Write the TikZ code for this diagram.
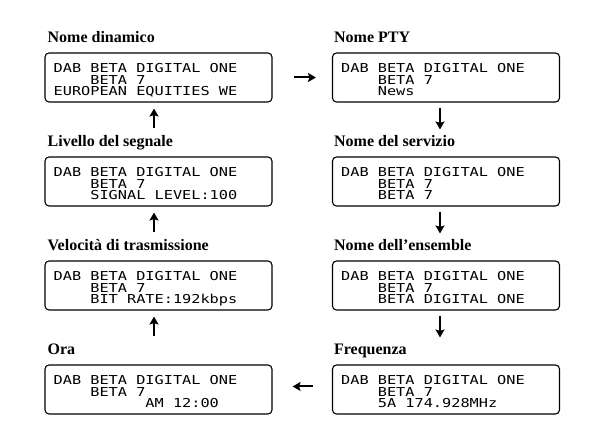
\documentclass[tikz,border=0pt]{standalone}
\usepackage{fontspec}
\setmainfont{Liberation Serif}
\newfontfamily\lcd[FakeStretch=1.24]{DejaVu Sans Mono}
\usetikzlibrary{arrows.meta}
\tikzset{
  lcdbox/.style={draw, line width=1.1pt, rounded corners=4pt, minimum width=227pt, minimum height=49pt, inner sep=0pt},
  lcdtext/.style={anchor=north west, inner sep=0pt, align=left, font=\lcd\fontsize{12.3}{11.5}\selectfont},
  ttl/.style={anchor=base west, inner sep=0pt, font=\fontsize{16}{17}\selectfont\bfseries},
  arr/.style={line width=2pt, -{Stealth[length=8pt,width=9pt,inset=1.5pt]}}
}
\newcommand{\lcdsp}[1]{\phantom{#1}}
\begin{document}
\begin{tikzpicture}[x=1pt,y=-1pt]
\useasboundingbox (0,0) rectangle (605,443);
% left column
\node[lcdbox] (b1) at (158.5,77.5) {};
\node[lcdbox] (b8) at (158.5,181.5) {};
\node[lcdbox] (b7) at (158.5,285.5) {};
\node[lcdbox] (b6) at (158.5,389.5) {};
% right column
\node[lcdbox] (b2) at (446,77.5) {};
\node[lcdbox] (b3) at (446,181.5) {};
\node[lcdbox] (b4) at (446,285.5) {};
\node[lcdbox] (b5) at (446,389.5) {};
% titles
\node[ttl] (h1) at ([shift={(3,-10)}]b1.north west) {Nome dinamico};
\node[ttl] (h8) at ([shift={(3,-10)}]b8.north west) {Livello del segnale};
\node[ttl] (h7) at ([shift={(3,-10)}]b7.north west) {Velocità di trasmissione};
\node[ttl] (h6) at ([shift={(3,-10)}]b6.north west) {Ora};
\node[ttl] (h2) at ([shift={(2,-10)}]b2.north west) {Nome PTY};
\node[ttl] (h3) at ([shift={(2,-10)}]b3.north west) {Nome del servizio};
\node[ttl] (h4) at ([shift={(2,-10)}]b4.north west) {Nome dell’ensemble};
\node[ttl] (h5) at ([shift={(2,-10)}]b5.north west) {Frequenza};
% lcd texts
\node[lcdtext] (t1) at ([shift={(9,11)}]b1.north west) {DAB BETA DIGITAL ONE\\\lcdsp{0000}BETA 7\\EUROPEAN EQUITIES WE};
\node[lcdtext] (t8) at ([shift={(9,11)}]b8.north west) {DAB BETA DIGITAL ONE\\\lcdsp{0000}BETA 7\\\lcdsp{0000}SIGNAL LEVEL:100};
\node[lcdtext] (t7) at ([shift={(9,11)}]b7.north west) {DAB BETA DIGITAL ONE\\\lcdsp{0000}BETA 7\\\lcdsp{0000}BIT RATE:192kbps};
\node[lcdtext] (t6) at ([shift={(9,11)}]b6.north west) {DAB BETA DIGITAL ONE\\\lcdsp{0000}BETA 7\\\lcdsp{0000000000}AM 12:00};
\node[lcdtext] (t2) at ([shift={(9,11)}]b2.north west) {DAB BETA DIGITAL ONE\\\lcdsp{0000}BETA 7\\\lcdsp{0000}News};
\node[lcdtext] (t3) at ([shift={(9,11)}]b3.north west) {DAB BETA DIGITAL ONE\\\lcdsp{0000}BETA 7\\\lcdsp{0000}BETA 7};
\node[lcdtext] (t4) at ([shift={(9,11)}]b4.north west) {DAB BETA DIGITAL ONE\\\lcdsp{0000}BETA 7\\\lcdsp{0000}BETA DIGITAL ONE};
\node[lcdtext] (t5) at ([shift={(9,11)}]b5.north west) {DAB BETA DIGITAL ONE\\\lcdsp{0000}BETA 7\\\lcdsp{0000}5A 174.928MHz};
% arrows
\draw[arr, shorten <=21pt, shorten >=16pt] (b1.east) -- (b2.west);
\draw[arr, shorten <=5pt, shorten >=27pt] ([xshift=-6]b2.south) -- ([xshift=-6]b3.north);
\draw[arr, shorten <=5pt, shorten >=27pt] ([xshift=-6]b3.south) -- ([xshift=-6]b4.north);
\draw[arr, shorten <=5pt, shorten >=27pt] ([xshift=-6]b4.south) -- ([xshift=-6]b5.north);
\draw[arr, shorten <=19pt, shorten >=20pt] ([yshift=3]b5.west) -- ([yshift=3]b6.east);
\draw[arr, shorten <=28pt, shorten >=6pt] ([xshift=-4.5]b6.north) -- ([xshift=-4.5]b7.south);
\draw[arr, shorten <=28pt, shorten >=6pt] ([xshift=-4.5]b7.north) -- ([xshift=-4.5]b8.south);
\draw[arr, shorten <=28pt, shorten >=6pt] ([xshift=-4.5]b8.north) -- ([xshift=-4.5]b1.south);
\end{tikzpicture}
\end{document}
